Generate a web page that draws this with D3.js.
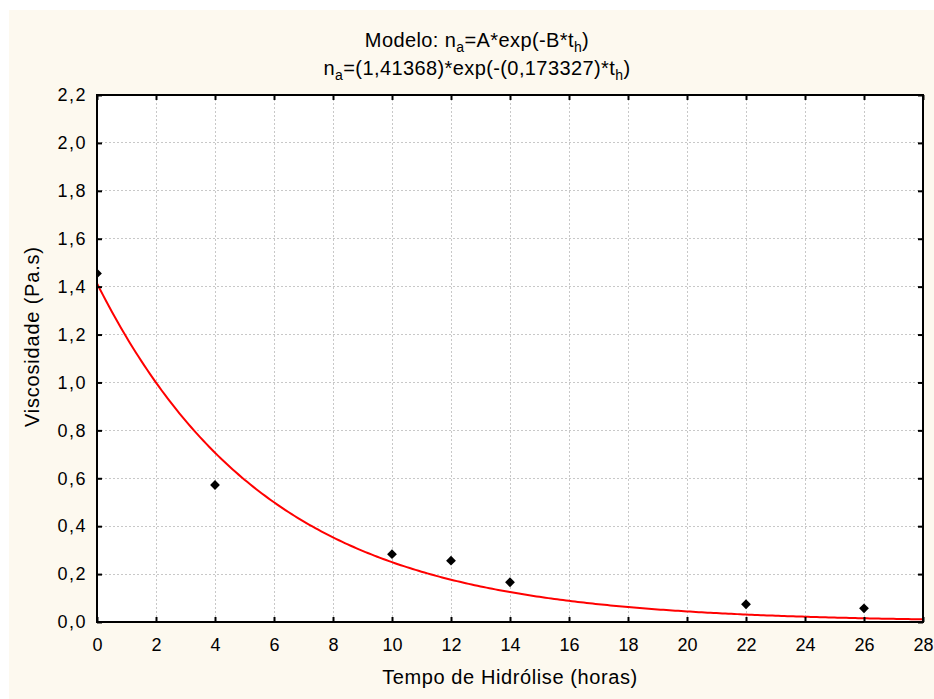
<!DOCTYPE html>
<html><head><meta charset="utf-8">
<script src="https://cdn.jsdelivr.net/npm/d3@7"></script>
<style>body{margin:0;background:#fff}svg{display:block}text{font-family:"Liberation Sans",Arial,sans-serif;fill:#000}</style>
</head><body><svg id="c" width="934" height="699"></svg>
<script>
const tempo = [0, 4, 10, 12, 14, 22, 26];
const viscosidade = [1.455, 0.572, 0.283, 0.256, 0.166, 0.074, 0.057];
const paramA = 1.41368, paramB = 0.173327;
const xTicks = [0,2,4,6,8,10,12,14,16,18,20,22,24,26,28];
const yTicks = [0,0.2,0.4,0.6,0.8,1.0,1.2,1.4,1.6,1.8,2.0,2.2];

const svg = d3.select("#c");
svg.append("rect").attr("x",9).attr("y",10).attr("width",925).attr("height",689).attr("fill","#fdf9ef");

const L=97,R=923,T=95,B=622;
const x = d3.scaleLinear().domain([0,28]).range([L,R]);
const y = d3.scaleLinear().domain([0,2.2]).range([B,T]);
const fmt = d => d3.format(".1f")(d).replace(".",",");

svg.append("rect").attr("x",L).attr("y",T).attr("width",R-L).attr("height",B-T).attr("fill","#fff");
svg.append("defs").append("clipPath").attr("id","clip").append("rect").attr("x",L).attr("y",T).attr("width",R-L).attr("height",B-T);

// grid
const g = svg.append("g");
g.selectAll("line.gx").data(xTicks.slice(1,-1)).join("line")
  .attr("x1",d=>x(d)).attr("x2",d=>x(d)).attr("y1",T).attr("y2",B)
  .attr("stroke","#c8c8c8").attr("stroke-dasharray","2,2").attr("stroke-width",1).attr("shape-rendering","crispEdges");
g.selectAll("line.gy").data(yTicks.slice(1,-1)).join("line")
  .attr("y1",d=>y(d)).attr("y2",d=>y(d)).attr("x1",L).attr("x2",R)
  .attr("stroke","#c8c8c8").attr("stroke-dasharray","2,2").attr("stroke-width",1).attr("shape-rendering","crispEdges");

// curve
const curveData = d3.range(0,28.001,0.1).map(t=>[t, paramA*Math.exp(-paramB*t)]);
svg.append("path").datum(curveData).attr("clip-path","url(#clip)")
  .attr("d", d3.line().x(d=>x(d[0])).y(d=>y(d[1])))
  .attr("fill","none").attr("stroke","#ff0000").attr("stroke-width",2);

// points
svg.append("g").attr("clip-path","url(#clip)").selectAll("path").data(tempo).join("path")
  .attr("transform",(d,i)=>`translate(${x(d)},${y(viscosidade[i])}) rotate(45)`)
  .attr("d", d3.symbol().type(d3.symbolSquare).size(48)())
  .attr("fill","#000");

// axes
const axB = d3.axisBottom(x).tickValues(xTicks).tickSize(-5).tickPadding(16).tickFormat(d3.format("d"));
const axL = d3.axisLeft(y).tickValues(yTicks).tickSize(-5).tickPadding(12).tickFormat(fmt);
const axR = d3.axisRight(y).tickValues(yTicks).tickSize(-5).tickFormat("");
const axT = d3.axisTop(x).tickValues(xTicks).tickSize(-5).tickFormat("");
function style(sel){ sel.selectAll(".domain").remove(); sel.selectAll(".tick line").attr("stroke","#000").attr("stroke-width",2);
  sel.selectAll("text").attr("font-family","Liberation Sans, Arial, sans-serif").attr("fill","#000"); }
const gB = svg.append("g").attr("transform",`translate(0,${B})`).call(axB).call(style);
gB.selectAll("text").attr("font-size",18).attr("y",16).attr("dy","0.71em");
const gL = svg.append("g").attr("transform",`translate(${L},0)`).call(axL).call(style);
gL.selectAll("text").attr("font-size",18).attr("letter-spacing","1.5px").attr("x",-10);
svg.append("g").attr("transform",`translate(${R},0)`).call(axR).call(style);
svg.append("g").attr("transform",`translate(0,${T})`).call(axT).call(style);

svg.append("rect").attr("x",L).attr("y",T).attr("width",R-L).attr("height",B-T)
  .attr("fill","none").attr("stroke","#000").attr("stroke-width",2);

// titles
function title(yy, parts){
  const t = svg.append("text").attr("x",477).attr("y",yy).attr("text-anchor","middle").attr("font-size",20).attr("letter-spacing","0.4px");
  parts.forEach(p=>{
    if(p.sub){ t.append("tspan").attr("font-size",14).attr("dy",5).text(p.sub); }
    else { t.append("tspan").attr("dy", p.back? -5 : 0).text(p.t); }
  });
}
title(46.5, [{t:"Modelo: n"},{sub:"a"},{t:"=A*exp(-B*t",back:true},{sub:"h"},{t:")",back:true}]);
title(75, [{t:"n"},{sub:"a"},{t:"=(1,41368)*exp(-(0,173327)*t",back:true},{sub:"h"},{t:")",back:true}]);

svg.append("text").attr("x",(L+R)/2).attr("y",684).attr("text-anchor","middle").attr("font-size",20).attr("letter-spacing","0.6px")
  .text("Tempo de Hidrólise (horas)");
svg.append("text").attr("transform",`translate(39,427) rotate(-90)`).attr("text-anchor","start").attr("font-size",20).attr("letter-spacing","0.8px")
  .text("Viscosidade (Pa.s)");
</script></body></html>
